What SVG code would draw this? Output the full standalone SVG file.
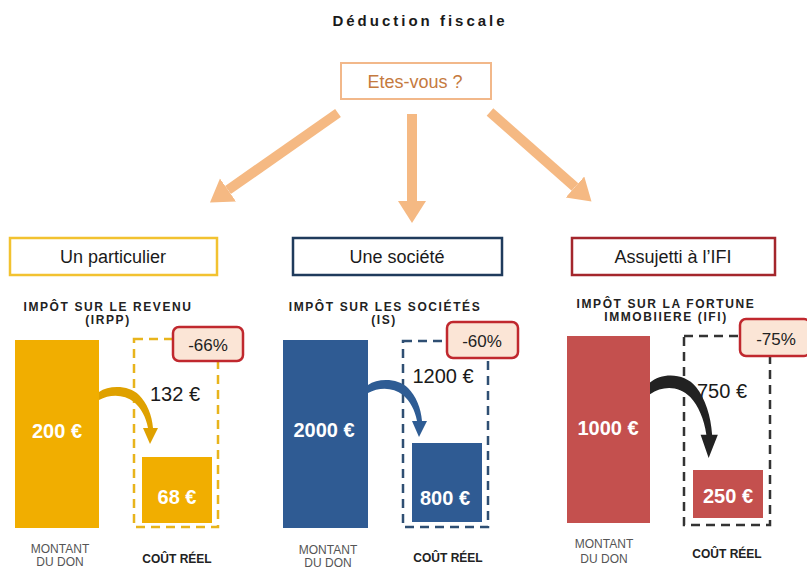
<svg xmlns="http://www.w3.org/2000/svg" width="807" height="570" viewBox="0 0 807 570">
<defs>
<marker id="oh" markerUnits="userSpaceOnUse" markerWidth="24" markerHeight="30" refX="0" refY="14" orient="auto">
<path d="M0,0 L22,14 L0,28 Z" fill="#f5b983"/>
</marker>
<path id="curve" d="M0,-1 C10,-8 30,-8 40,2 C48,10 53,22 54,35 L59,35 L51,51 L44,35 L49,35 C47,24 42,15 35,9 C25,1 11,1 0,7 Z"/>
</defs>
<style>
text{font-family:"Liberation Sans","DejaVu Sans",sans-serif}
.title{font-size:15px;font-weight:bold;letter-spacing:3px;fill:#1a1a1a}
.q{font-size:18px;fill:#c57a3e}
.cat{font-size:18px;fill:#1a1a1a}
.sub{font-size:12px;font-weight:bold;letter-spacing:1.6px;fill:#222}
.val{font-size:20px;font-weight:bold;fill:#fff}
.diff{font-size:20px;fill:#1a1a1a}
.pct{font-size:17px;fill:#222}
.badge{fill:#fbe5d6;stroke:#c0282e;stroke-width:2.5}
.mont{font-size:12px;fill:#555}
.cout{font-size:12px;font-weight:bold;fill:#222}
.dash{fill:none;stroke-width:2.5;stroke-dasharray:9 6}
.conn{stroke:#f5b983;stroke-width:10;fill:none;marker-end:url(#oh)}
</style>
<rect width="807" height="570" fill="#fff"/>

<g id="title"><text class="title" x="420" y="26" text-anchor="middle">Déduction fiscale</text></g>

<g id="question">
<rect x="341" y="63" width="150" height="36" fill="#fff" stroke="#f2b88a" stroke-width="2"/>
<text class="q" x="415" y="88" text-anchor="middle">Etes-vous ?</text>
</g>

<g id="connectors">
<line class="conn" x1="338" y1="113" x2="228" y2="190"/>
<line class="conn" x1="412" y1="114" x2="412" y2="201"/>
<line class="conn" x1="490" y1="112" x2="575" y2="187"/>
</g>

<g id="particulier">
<rect x="10" y="238" width="207" height="37" fill="#fff" stroke="#f2c230" stroke-width="2.5"/>
<text class="cat" x="113" y="263" text-anchor="middle">Un particulier</text>
</g>
<g id="societe">
<rect x="293" y="238" width="209" height="37" fill="#fff" stroke="#1f3b5c" stroke-width="2.5"/>
<text class="cat" x="397" y="263" text-anchor="middle">Une société</text>
</g>
<g id="ifi">
<rect x="572" y="238" width="203" height="37" fill="#fff" stroke="#a4262c" stroke-width="2.5"/>
<text class="cat" x="673" y="263" text-anchor="middle">Assujetti à l’IFI</text>
</g>

<g id="panel-irpp">
<text class="sub" x="108" y="311" text-anchor="middle">IMPÔT SUR LE REVENU</text>
<text class="sub" x="108" y="324" text-anchor="middle">(IRPP)</text>
<rect x="15" y="340" width="84" height="188" fill="#f1ae00"/>
<text class="val" x="57" y="438" text-anchor="middle">200 €</text>
<rect class="dash" x="134" y="339" width="84" height="188" stroke="#e8b41c"/>
<rect x="142" y="457" width="70" height="66" fill="#f1ae00"/>
<text class="val" x="177" y="504" text-anchor="middle">68 €</text>
<rect class="badge" x="173" y="327" width="70" height="34" rx="6"/>
<text class="pct" x="208" y="351" text-anchor="middle">-66%</text>
<text class="diff" x="175" y="401" text-anchor="middle">132 €</text>
<use href="#curve" transform="translate(99,393)" fill="#dfa100"/>
<text class="mont" x="60" y="553" text-anchor="middle">MONTANT</text>
<text class="mont" x="60" y="566" text-anchor="middle">DU DON</text>
<text class="cout" x="177" y="563" text-anchor="middle">COÛT RÉEL</text>
</g>

<g id="panel-is">
<text class="sub" x="385" y="311" text-anchor="middle">IMPÔT SUR LES SOCIÉTÉS</text>
<text class="sub" x="384" y="324" text-anchor="middle">(IS)</text>
<rect x="283" y="340" width="85" height="188" fill="#2f5b93"/>
<text class="val" x="324" y="437" text-anchor="middle">2000 €</text>
<rect class="dash" x="403" y="341" width="85" height="186" stroke="#2f4f73"/>
<rect x="412" y="443" width="70" height="79" fill="#2f5b93"/>
<text class="val" x="445" y="505" text-anchor="middle">800 €</text>
<rect class="badge" x="447" y="322" width="71" height="36" rx="6"/>
<text class="pct" x="482" y="347" text-anchor="middle">-60%</text>
<text class="diff" x="443" y="383" text-anchor="middle">1200 €</text>
<use href="#curve" transform="translate(368,386)" fill="#2e5c94"/>
<text class="mont" x="328" y="554" text-anchor="middle">MONTANT</text>
<text class="mont" x="328" y="567" text-anchor="middle">DU DON</text>
<text class="cout" x="448" y="562" text-anchor="middle">COÛT RÉEL</text>
</g>

<g id="panel-ifi">
<text class="sub" x="666" y="308" text-anchor="middle">IMPÔT SUR LA FORTUNE</text>
<text class="sub" x="666" y="321" text-anchor="middle">IMMOBIIERE  (IFI)</text>
<rect x="567" y="336" width="83" height="187" fill="#c4504e"/>
<text class="val" x="608" y="435" text-anchor="middle">1000 €</text>
<rect class="dash" x="684" y="336" width="86" height="189" stroke="#333"/>
<rect x="693" y="470" width="70" height="48" fill="#c4504e"/>
<text class="val" x="728" y="503" text-anchor="middle">250 €</text>
<rect class="badge" x="740" y="319" width="70" height="37" rx="6"/>
<text class="pct" x="776" y="345" text-anchor="middle">-75%</text>
<text class="diff" x="722" y="398" text-anchor="middle">750 €</text>
<use href="#curve" transform="translate(650,384) scale(1.15,1.45)" fill="#222"/>
<text class="mont" x="604" y="548" text-anchor="middle">MONTANT</text>
<text class="mont" x="604" y="563" text-anchor="middle">DU DON</text>
<text class="cout" x="727" y="558" text-anchor="middle">COÛT RÉEL</text>
</g>
</svg>
